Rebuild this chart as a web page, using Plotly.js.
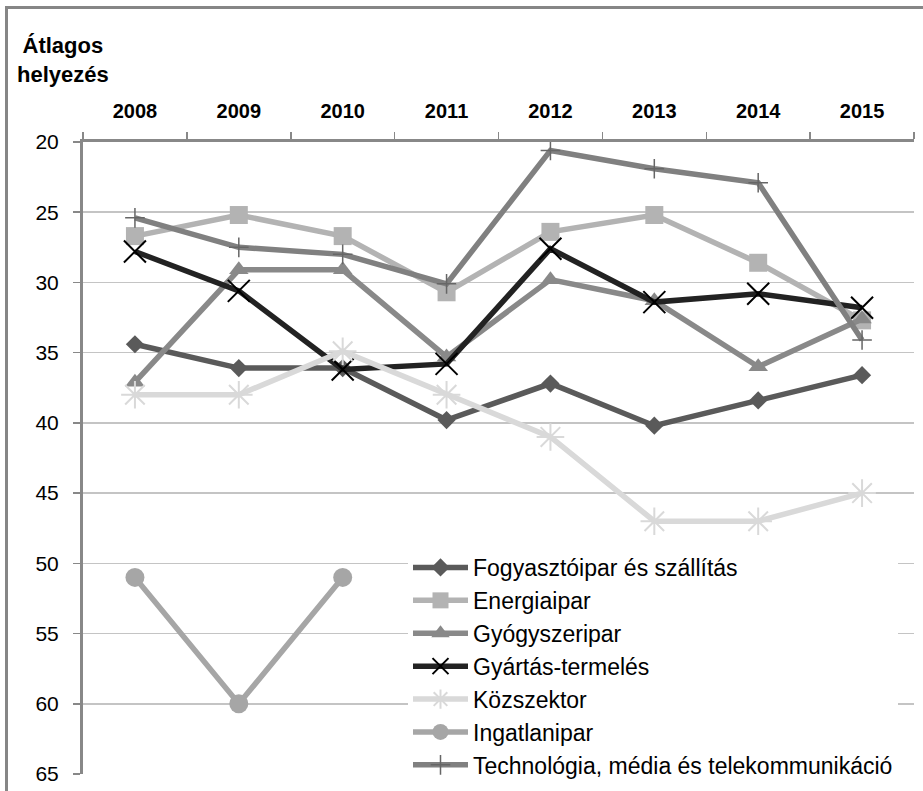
<!DOCTYPE html>
<html>
<head>
<meta charset="utf-8">
<script src="https://cdn.plot.ly/plotly-3.0.1.min.js"></script>
<style>html,body{margin:0;padding:0;background:#fff;}#chart{width:923px;height:791px;}</style>
</head>
<body>
<div id="chart"></div>
<script>
var years = ['2008','2009','2010','2011','2012','2013','2014','2015'];
var seriesNames = ['Fogyasztóipar és szállítás','Energiaipar','Gyógyszeripar','Gyártás-termelés','Közszektor','Ingatlanipar','Technológia, média és telekommunikáció'];
var fogyasztoipar = [34.4, 36.1, 36.1, 39.8, 37.2, 40.2, 38.4, 36.6];
var energiaipar   = [26.7, 25.2, 26.7, 30.7, 26.4, 25.2, 28.6, 32.7];
var gyogyszeripar = [37.1, 29.1, 29.1, 35.3, 29.8, 31.3, 36.0, 32.6];
var gyartas       = [27.8, 30.6, 36.2, 35.8, 27.6, 31.4, 30.8, 31.8];
var kozszektor    = [38.0, 38.0, 34.9, 38.0, 41.0, 47.0, 47.0, 45.0];
var ingatlanipar  = [51.0, 60.0, 51.0, null, null, null, null, null];
var tmt           = [25.4, 27.5, 28.0, 30.1, 20.6, 21.9, 22.9, 34.1];
var yTicks = [20,25,30,35,40,45,50,55,60,65];

var values = [fogyasztoipar, energiaipar, gyogyszeripar, gyartas, kozszektor, ingatlanipar, tmt];
var lineColors = ['#5a5a5a','#b3b3b3','#898989','#222222','#d9d9d9','#a6a6a6','#808080'];
var markerSymbols = ['diamond','square','triangle-up','x-thin-open','asterisk-open','circle','cross-thin-open'];
var markerSizes = [14,18,17,22,23,19,14];
var markerLineColors = ['#5a5a5a','#b3b3b3','#898989','#000000','#d9d9d9','#a6a6a6','#666666'];
var markerLineWidths = [0,0,0,2,2,0,1.5];

var traces = values.map(function(v, i){
  return {
    type:'scatter', mode:'lines+markers', x: years, y: v, name: seriesNames[i],
    legendgroup: 'g'+i,
    connectgaps:false,
    line:{color: lineColors[i], width:5.5},
    marker:{symbol: markerSymbols[i], size: markerSizes[i], color: markerLineColors[i],
            line:{color: markerLineColors[i], width: markerLineWidths[i]}},
    cliponaxis:false
  };
});

var ml = 83, mr = 9, mt = 142, mb = 17, W = 923, H = 791;
var pw = W - ml - mr, ph = H - mt - mb;
function px(x){ return (x - ml)/pw; }
function py(y){ return (H - mb - y)/ph; }

var layout = {
  width: W, height: H,
  margin:{l:ml, r:mr, t:mt, b:mb, pad:0, autoexpand:false},
  paper_bgcolor:'#ffffff', plot_bgcolor:'#ffffff',
  showlegend:true,
  font:{family:'"Liberation Sans", Arial, sans-serif', size:20, color:'#000'},
  xaxis:{
    type:'category', side:'top', range:[-0.5,7.5], automargin:false,
    showline:true, linecolor:'#888888', linewidth:3,
    ticks:'outside', ticklen:7, tickwidth:1.5, tickcolor:'#888888', tickson:'boundaries',
    showgrid:false, zeroline:false, fixedrange:true,
    tickfont:{family:'"Liberation Sans", Arial, sans-serif', size:20, color:'#000', weight:'bold'},
    ticklabelstandoff: 13
  },
  yaxis:{
    autorange:false, range:[65,20], tickvals: yTicks, ticktext: yTicks.map(String), automargin:false,
    showline:true, linecolor:'#888888', linewidth:3,
    ticks:'outside', ticklen:7, tickwidth:1.5, tickcolor:'#888888',
    showgrid:true, gridcolor:'#c4c4c4', gridwidth:1.5, zeroline:false,
    tickfont:{family:'"Liberation Sans", Arial, sans-serif', size:21, color:'#000'},
    ticklabelstandoff: 10
  },
  legend:{
    x: px(408), y: py(546), xanchor:'left', yanchor:'top',
    bgcolor:'#ffffff', borderwidth:0,
    font:{family:'"Liberation Sans", Arial, sans-serif', size:23, color:'#000'},
    traceorder:'grouped', tracegroupgap:0, itemwidth:55
  },
  annotations:[{
    xref:'paper', yref:'paper', x: px(63), y: py(60), xanchor:'center', yanchor:'middle',
    text:'Átlagos<br>helyezés', showarrow:false, align:'center',
    font:{family:'"Liberation Sans", Arial, sans-serif', size:22, color:'#000', weight:'bold'}
  }],
  shapes:[
    {type:'line', xref:'paper', yref:'paper', x0: px(6.5), x1: px(6.5), y0: py(6), y1: py(800), line:{color:'#868686', width:3}},
    {type:'line', xref:'paper', yref:'paper', x0: px(5), x1: px(930), y0: py(7.5), y1: py(7.5), line:{color:'#868686', width:3}}
  ]
};

Plotly.newPlot('chart', traces, layout, {displayModeBar:false, staticPlot:true});
</script>
</body>
</html>
